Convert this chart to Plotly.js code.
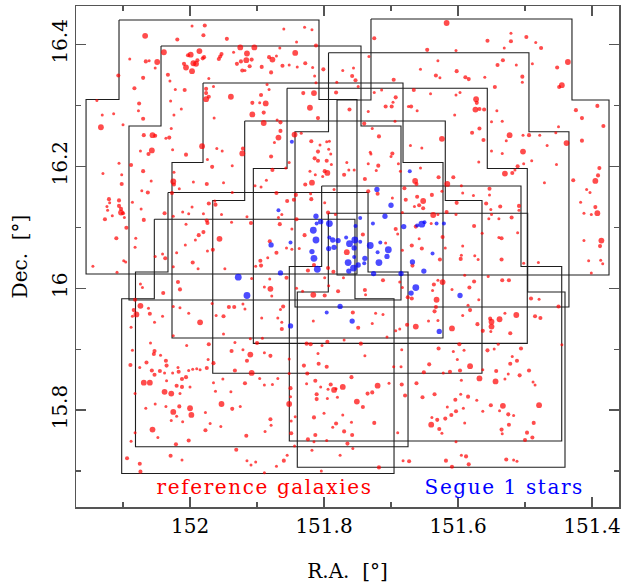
<!DOCTYPE html>
<html>
<head>
<meta charset="utf-8">
<script src="https://cdn.plot.ly/plotly-3.0.1.min.js"></script>
<style>
  html, body { margin: 0; padding: 0; background: #ffffff; }
  #chart { width: 624px; height: 585px; }
  #chart .annotation-text { letter-spacing: 1.6px; }
</style>
</head>
<body>
<div id="chart"></div>
<script>
// ---- Imaging footprints (degrees). Each one is a narrow upper block sitting on a wider lower block.
const fpTopEastRA  = [152.1060,152.0433,151.9806,152.0329,151.7933,151.8552,151.9184,151.8035,151.7936,152.0533,151.7299];
const fpTopWestRA  = [151.8075,151.7448,151.6821,151.7343,151.4941,151.5563,151.6190,151.5060,151.4960,151.7538,151.4299];
const fpTopDec     = [16.4399,16.3972,16.3366,16.1569,16.3863,16.3279,16.2742,16.1676,16.1228,16.1130,16.4415];
const fpStepDec    = [16.3095,16.2660,16.2061,16.0265,16.2567,16.1963,16.1438,16.0355,15.9937,15.9827,16.3087];
const fpLowWestRA  = [151.7508,151.6851,151.6224,151.6746,151.4344,151.4966,151.5642,151.4452,151.4403,151.6955,151.3746];
const fpBottomDec  = [16.0232,15.9806,15.9182,15.7399,15.9691,15.9095,15.8603,15.7493,15.7061,15.6960,16.0216];
const fpLowEastRA  = [152.1552,152.0911,152.0269,152.0814,151.8433,151.9055,151.9661,151.8518,151.8399,152.1020,151.7806];

// ---- Reference galaxies: position and brightness class (1 faint .. 3 bright)
const galRA = [
152.067,151.997,151.980,151.978,152.019,152.039,151.986,151.999,152.003,151.989,
151.981,151.995,151.991,152.009,152.006,151.997,152.049,152.066,152.061,152.052,
152.090,152.107,152.033,152.070,152.030,152.083,152.022,152.008,151.972,151.976,
151.976,151.972,152.029,152.076,152.077,152.013,152.024,152.131,152.114,152.070,
152.139,152.133,152.100,152.028,152.069,152.056,152.052,152.036,152.031,151.982,
152.057,152.062,152.074,152.026,152.006,152.088,152.106,152.130,152.102,152.070,
152.024,152.025,152.024,152.058,152.102,151.995,151.975,152.016,152.063,152.072,
152.027,152.121,
151.945,151.860,151.829,151.818,151.841,151.812,151.925,151.904,151.935,151.915,
151.953,151.955,151.957,151.979,151.866,151.843,151.882,151.877,151.871,151.908,
151.916,151.924,151.930,151.911,151.893,151.862,151.852,151.840,151.828,151.817,
151.922,151.918,151.879,151.801,151.814,151.812,151.885,151.882,151.965,151.976,
151.939,151.894,151.907,151.896,151.887,151.890,151.907,151.964,151.831,151.815,
151.821,151.809,151.870,151.865,151.890,151.865,151.868,151.874,151.921,151.960,
151.952,151.922,151.879,151.974,151.852,151.967,151.937,151.857,151.877,151.950,
151.886,151.903,151.894,151.937,151.871,151.844,151.834,151.842,151.819,151.819,
151.806,151.796,151.792,151.809,151.793,151.790,151.814,151.809,151.796,151.789,
151.821,151.813,151.799,151.795,151.802,151.818,151.828,151.785,151.820,151.770,
151.766,151.755,151.763,151.734,151.739,151.719,151.722,151.731,151.730,151.718,
151.698,151.700,151.689,151.686,151.728,151.740,151.694,151.762,151.734,151.708,
151.699,151.697,151.693,151.725,151.714,151.782,151.749,151.753,151.758,151.781,
151.756,151.772,151.696,151.733,151.725,151.680,151.698,151.734,151.720,151.674,
151.617,151.521,151.498,151.556,151.521,151.484,151.476,151.531,151.646,151.603,
151.630,151.533,151.541,151.513,151.489,151.436,151.452,151.656,151.602,151.633,
151.627,151.589,151.584,151.560,151.504,151.504,151.445,151.449,151.545,151.666,
151.641,151.603,151.597,151.573,151.572,151.574,151.568,151.561,151.670,151.661,
151.605,151.542,151.424,151.392,151.415,151.383,151.550,151.534,151.450,151.568,
151.579,151.523,151.503,151.494,151.478,151.454,151.624,151.562,151.528,151.467,
151.438,151.415,151.671,151.654,151.550,151.534,151.503,151.490,151.502,151.511,
151.569,151.453,151.389,151.656,151.530,151.519,151.515,151.391,151.395,151.428,
151.471,151.629,151.607,151.664,151.662,151.616,151.624,151.595,151.553,151.593,
151.577,151.553,151.639,151.661,151.408,151.403,
152.106,152.120,152.124,152.106,152.103,152.123,152.103,152.100,152.116,152.127,
152.098,152.095,152.110,152.086,152.069,152.073,152.081,152.082,152.099,152.096,
152.109,152.145,152.052,152.041,152.037,152.038,152.025,152.011,151.997,152.002,
151.980,151.975,152.006,151.980,151.987,151.992,152.007,152.020,151.996,151.988,
152.025,152.074,152.071,152.040,152.018,152.015,152.082,152.074,152.062,152.084,
152.080,152.086,152.088,152.060,152.041,152.053,152.025,152.015,152.002,151.985,
152.025,152.005,152.086,152.059,152.053,152.054,152.044,152.089,152.075,152.065,
152.057,152.045,152.038,152.036,152.035,152.026,152.018,152.012,152.017,152.006,
152.002,151.996,151.990,151.985,152.053,152.069,152.060,152.035,152.020,152.012,
152.000,
151.972,151.962,151.963,151.953,151.974,151.956,151.974,151.966,151.915,151.909,
151.938,151.868,151.863,151.866,151.855,151.845,151.799,151.794,151.783,151.841,
151.848,151.829,151.881,151.871,151.856,151.848,151.837,151.884,151.895,151.894,
151.902,151.948,151.815,151.794,151.824,151.786,151.799,151.771,151.766,151.742,
151.708,151.693,151.690,151.683,151.678,151.683,151.908,151.881,151.889,151.880,
151.878,151.856,151.841,151.832,151.816,151.799,151.779,151.793,151.739,151.738,
151.712,151.687,151.675,151.683,151.942,151.934,151.921,151.918,151.961,151.950,
151.967,151.893,151.865,151.861,151.869,151.863,151.863,151.816,151.757,151.723,
151.712,151.728,151.749,151.676,151.687,151.950,151.910,151.892,151.933,151.972,
151.900,151.921,151.938,151.910,151.889,151.880,151.826,151.820,151.803,151.795,
151.770,151.745,151.739,151.809,151.706,151.684,151.693,151.973,151.965,151.975,
151.915,151.908,151.933,151.951,151.918,151.896,151.889,151.965,151.869,151.852,
151.830,151.808,151.796,151.825,151.813,151.790,151.759,151.852,151.782,151.772,
151.720,151.703,151.684,151.696,151.685,
151.652,151.658,151.652,151.665,151.602,151.558,151.551,151.537,151.509,151.509,
151.617,151.637,151.630,151.550,151.554,151.539,151.520,151.603,151.576,151.663,
151.640,151.564,151.511,151.623,151.539,151.535,151.658,151.619,151.593,151.669,
151.654,151.627,151.595,151.596,151.575,151.570,151.535,151.502,151.480,151.668,
151.555,151.590,151.630,151.623,151.576,151.534,151.524,151.636,151.638,151.609,
151.583,151.669,151.632,151.569,151.491,151.479,151.450,151.633,151.635,151.582,
151.585,151.593,151.530,151.513,151.485,151.477,151.552,151.538,151.550,151.550,
151.644,151.630,151.663,151.609,151.571,151.563,151.551,151.522,151.445,151.598,
151.540,151.506,151.629,151.607,151.591,151.556,151.546,151.519,151.512,151.522,
151.601,151.582,151.643,151.597,151.563,151.543,151.525,151.508,151.494,151.651,
151.622,151.612,151.568,151.595,151.544,151.530,151.488,151.485,151.662,151.417,
151.395,151.412,151.401,151.392,151.386,151.388,151.412,151.405,151.387,151.384,
151.401,
152.038,152.028,152.015,152.052,152.036,152.016,152.000,152.066,152.025,152.020,
151.998,152.028,152.011,152.082,152.056,152.048,151.977,152.002,152.021,152.088,
152.094,152.075,152.029,152.012,152.074,152.082,
151.877,151.962,151.939,151.977,151.953,151.937,151.925,151.970,151.954,151.916,
151.888,151.880,151.879,151.849,151.843,151.852,151.850,151.850,151.849,151.826,
151.805,151.794,151.785,151.811,151.811,151.795,151.780,151.735,151.728,151.751,
151.742,151.800,151.815,151.772,151.725,151.759,151.782,151.787,151.770,151.758,
151.813,151.824,151.815,151.796,151.765,151.757,151.818,151.776,151.844,151.855,
151.860,151.871,151.889,151.915,151.909,151.902,151.931,151.804,151.718,151.690,
151.682,151.673,151.679,
151.618,151.609,151.595,151.588,151.584,151.528,151.517,151.512,151.653,151.635,
151.596,151.585,151.604,151.572,151.551,151.533,151.538,151.479,151.616,151.592,
151.563,151.603,151.610,151.639,151.631,151.619,151.640,151.590,151.525,151.517,
151.524,151.487,151.628,151.624,151.535,151.534,151.497,151.489,151.500,151.603
];
const galDec = [
16.414,16.430,16.415,16.431,16.408,16.387,16.389,16.383,16.382,16.374,
16.377,16.369,16.368,16.368,16.362,16.356,16.371,16.372,16.373,16.361,
16.376,16.349,16.350,16.345,16.340,16.328,16.326,16.325,16.344,16.327,
16.310,16.314,16.307,16.303,16.291,16.294,16.284,16.284,16.286,16.278,
16.308,16.264,16.268,16.262,16.251,16.251,16.250,16.246,16.247,16.233,
16.226,16.220,16.225,16.227,16.219,16.202,16.205,16.188,16.186,16.192,
16.190,16.175,16.170,16.176,16.171,16.174,16.171,16.163,16.157,16.160,
16.156,16.146,
16.409,16.425,16.428,16.424,16.404,16.398,16.395,16.395,16.387,16.385,
16.384,16.380,16.376,16.379,16.394,16.386,16.379,16.375,16.381,16.375,
16.374,16.372,16.368,16.364,16.363,16.365,16.366,16.363,16.369,16.362,
16.357,16.357,16.354,16.359,16.348,16.337,16.334,16.326,16.331,16.320,
16.314,16.317,16.304,16.304,16.303,16.288,16.285,16.279,16.320,16.320,
16.296,16.279,16.276,16.272,16.271,16.258,16.247,16.239,16.229,16.229,
16.225,16.221,16.216,16.211,16.206,16.199,16.201,16.197,16.194,16.173,
16.177,16.168,16.166,16.157,16.156,16.252,16.254,16.153,16.146,16.241,
16.235,16.240,16.241,16.224,16.228,16.220,16.213,16.209,16.209,16.203,
16.192,16.186,16.192,16.189,16.183,16.173,16.170,16.162,16.155,16.186,
16.206,16.194,16.194,16.204,16.179,16.201,16.193,16.223,16.220,16.249,
16.221,16.216,16.204,16.192,16.262,16.270,16.274,16.293,16.290,16.298,
16.298,16.305,16.313,16.321,16.325,16.321,16.331,16.341,16.348,16.338,
16.361,16.357,16.342,16.380,16.410,16.164,16.148,16.159,16.155,16.298,
16.435,16.418,16.412,16.406,16.405,16.403,16.394,16.394,16.391,16.390,
16.373,16.374,16.366,16.366,16.368,16.371,16.362,16.359,16.356,16.349,
16.345,16.346,16.343,16.346,16.347,16.338,16.333,16.330,16.330,16.325,
16.319,16.317,16.321,16.310,16.304,16.293,16.294,16.293,16.298,16.291,
16.284,16.291,16.292,16.299,16.279,16.266,16.273,16.274,16.265,16.262,
16.255,16.251,16.251,16.251,16.251,16.255,16.245,16.243,16.242,16.234,
16.238,16.242,16.234,16.230,16.225,16.221,16.224,16.209,16.204,16.200,
16.207,16.203,16.197,16.197,16.188,16.189,16.194,16.185,16.176,16.177,
16.173,16.182,16.182,16.176,16.171,16.171,16.159,16.168,16.163,16.156,
16.152,16.153,16.153,16.150,16.162,16.157,
16.144,16.140,16.134,16.135,16.130,16.128,16.124,16.123,16.119,16.113,
16.116,16.099,16.082,16.141,16.112,16.130,16.082,16.067,16.045,16.043,
16.026,16.036,16.052,16.056,16.049,16.123,16.118,16.125,16.133,16.122,
16.122,16.111,16.105,16.092,16.087,16.079,16.071,16.058,16.042,16.032,
16.035,16.007,16.001,15.992,16.010,15.998,15.981,15.971,15.967,15.964,
15.957,15.954,15.936,15.958,15.954,15.944,15.970,15.968,15.959,15.944,
15.922,15.906,15.898,15.910,15.897,15.892,15.890,15.874,15.870,15.878,
15.865,15.864,15.861,15.881,15.873,15.861,15.870,15.851,15.863,15.854,
15.865,15.867,15.868,15.866,15.858,15.845,15.845,15.848,15.840,15.838,
15.838,
16.139,16.137,16.143,16.121,16.107,16.081,16.061,16.063,16.117,16.107,
16.108,16.116,16.121,16.105,16.143,16.145,16.140,16.124,16.121,16.113,
16.097,16.087,16.077,16.058,16.066,16.064,16.065,16.050,16.045,16.037,
16.036,16.032,16.038,16.033,16.029,16.027,16.017,16.017,16.059,16.088,
16.074,16.097,16.089,16.062,16.145,16.124,16.016,16.015,16.002,15.999,
15.987,16.017,16.000,15.995,15.989,15.988,15.995,16.004,15.997,15.989,
16.013,16.010,15.985,16.001,15.969,15.969,15.974,15.966,15.955,15.954,
15.975,15.951,15.965,15.970,15.951,15.944,15.933,15.946,15.960,15.959,
15.957,15.942,15.935,15.940,15.933,15.925,15.917,15.918,15.911,15.908,
15.910,15.899,15.897,15.891,15.894,15.889,15.909,15.908,15.906,15.912,
15.915,15.909,15.889,15.893,15.920,15.899,15.930,15.883,15.877,15.869,
15.881,15.861,15.865,15.851,15.844,15.852,15.841,15.845,15.852,15.884,
15.873,15.876,15.871,15.860,15.848,15.842,15.854,15.860,15.835,15.838,
15.840,15.844,15.842,15.871,15.871,
16.143,16.136,16.131,16.134,16.140,16.139,16.129,16.134,16.135,16.128,
16.125,16.120,16.121,16.121,16.114,16.114,16.116,16.121,16.102,16.101,
16.106,16.090,16.091,16.084,16.083,16.082,16.081,16.066,16.069,16.070,
16.065,16.047,16.054,16.048,16.053,16.047,16.047,16.041,16.042,16.037,
16.019,16.021,16.013,16.010,16.011,16.013,16.013,16.006,15.996,15.998,
16.001,15.983,15.981,15.981,15.983,15.982,15.970,15.969,15.962,15.964,
15.972,15.955,15.959,15.956,15.954,15.951,15.950,15.949,15.945,15.937,
15.946,15.947,15.937,15.934,15.941,15.930,15.929,15.926,15.907,15.908,
15.908,15.901,15.901,15.896,15.898,15.898,15.900,15.888,15.881,15.876,
15.883,15.872,15.875,15.865,15.866,15.864,15.859,15.857,15.865,15.862,
15.861,15.863,15.852,15.849,15.847,15.851,15.846,15.841,15.844,16.141,
16.133,16.123,16.121,16.123,16.078,16.069,16.078,16.045,16.046,16.040,
16.025,
15.830,15.827,15.827,15.810,15.806,15.806,15.803,15.803,15.797,15.790,
15.792,15.783,15.781,15.763,15.768,15.755,15.767,15.750,15.744,15.749,
15.721,15.712,15.725,15.718,15.699,15.827,
15.842,15.831,15.830,15.796,15.810,15.802,15.806,15.778,15.773,15.758,
15.765,15.785,15.775,15.782,15.789,15.810,15.822,15.836,15.762,15.843,
15.838,15.834,15.833,15.826,15.818,15.819,15.821,15.827,15.829,15.814,
15.805,15.795,15.788,15.792,15.779,15.780,15.778,15.772,15.765,15.759,
15.759,15.752,15.748,15.750,15.745,15.737,15.734,15.726,15.741,15.726,
15.717,15.708,15.697,15.717,15.710,15.715,15.735,15.700,15.706,15.763,
15.717,15.716,15.824,
15.717,15.707,15.726,15.724,15.711,15.719,15.718,15.716,15.821,15.826,
15.826,15.822,15.817,15.816,15.808,15.807,15.799,15.808,15.805,15.803,
15.798,15.798,15.792,15.788,15.784,15.786,15.776,15.779,15.793,15.791,
15.776,15.779,15.769,15.762,15.768,15.761,15.763,15.755,15.751,15.748
];
const galMag = [
3,1,2,2,2,3,3,3,2,2, 2,3,3,2,3,3,3,2,1,1, 1,2,2,2,1,2,1,2,1,2, 3,2,1,2,1,1,1,1,1,2,
1,3,1,1,2,3,2,1,2,3, 3,2,1,1,2,2,1,1,1,2, 1,3,2,1,2,1,2,1,2,1, 2,2,
2,1,1,1,1,2,3,3,1,3, 2,2,2,2,1,3,2,3,1,2, 3,2,2,2,2,2,1,1,2,1, 2,1,2,2,1,1,1,1,1,2,
3,2,2,1,3,2,3,1,2,3, 3,2,1,2,3,2,3,1,2,1, 1,3,2,1,1,2,1,1,2,1, 1,1,1,1,2,3,1,2,2,2,
1,1,1,2,1,1,2,2,2,1, 1,1,2,3,1,3,2,1,1,2, 1,1,1,1,2,2,1,1,1,2, 2,1,1,1,1,2,1,2,1,2,
2,1,2,1,1,2,1,2,2,1, 1,1,2,1,2,2,1,2,2,1,
3,1,2,2,2,1,2,1,2,1, 1,2,2,1,1,3,2,1,2,2, 1,2,2,1,2,1,3,2,2,2, 1,1,1,3,2,3,2,2,2,1,
1,1,2,2,2,2,1,1,1,2, 2,3,1,2,1,1,3,2,1,1, 3,2,1,1,1,1,3,1,1,2, 1,1,2,1,3,2,1,2,3,2,
1,2,2,3,2,3,1,1,2,1, 1,1,2,2,1,1,
2,1,1,2,2,1,3,2,1,2, 1,2,2,1,2,1,1,1,1,1, 1,1,1,1,2,2,1,1,1,1, 1,2,1,2,2,1,1,1,2,1,
1,1,1,2,2,2,2,3,1,2, 3,1,1,2,1,1,1,1,1,3, 1,1,1,1,2,2,1,2,1,2, 2,2,1,2,2,1,1,2,2,2,
1,1,1,1,2,3,3,1,2,2, 1,
2,2,1,1,2,3,1,2,1,2, 1,1,1,2,2,2,1,2,1,2, 1,2,2,2,1,1,1,1,2,2, 1,1,2,2,2,2,1,1,3,2,
1,2,1,1,2,1,1,1,1,3, 1,2,1,1,3,2,2,1,2,1, 2,1,2,1,2,2,1,1,1,2, 1,1,1,2,1,1,2,1,2,1,
1,1,2,2,1,1,1,1,1,2, 2,1,2,3,1,2,2,2,1,2, 1,2,1,1,1,1,1,1,2,2, 2,3,2,1,2,1,1,1,1,1,
2,2,2,2,2,2,2,1,1,3, 3,1,2,1,1,
3,2,2,1,2,2,1,2,2,1, 2,3,1,1,1,1,2,1,2,2, 1,1,1,2,1,2,1,1,1,2, 2,2,1,2,1,1,2,1,1,2,
1,1,1,3,2,2,2,2,1,1, 2,2,3,1,2,1,2,2,2,2, 1,1,1,3,2,2,2,3,3,3, 1,1,3,3,2,2,1,2,1,2,
1,2,2,1,1,2,1,1,2,2, 1,3,2,2,1,2,1,2,2,2, 1,2,3,1,3,1,1,1,2,1, 2,1,1,3,3,2,1,1,1,1,
1,
3,3,1,1,1,2,3,1,3,1, 3,1,1,1,3,1,2,2,2,1, 2,2,2,1,2,1,
1,1,1,1,3,2,1,1,1,2, 1,2,1,1,1,3,1,2,2,1, 1,1,3,2,2,1,1,2,2,3, 2,1,2,1,2,1,2,1,2,2,
2,2,1,1,2,1,1,1,1,1, 2,1,1,1,1,1,2,1,2,1, 1,2,2,
2,2,1,2,2,2,1,1,2,2, 1,2,2,1,2,3,1,3,1,1, 1,2,2,1,2,2,3,1,2,1, 2,2,2,1,2,1,2,2,2,1
];

// ---- Segue 1 member stars
const starRA = [
151.868,151.848,151.672,151.721,151.700,151.709,151.727,151.681,151.654,151.661,
151.650,151.632,151.621,151.746,151.753,151.792,151.812,151.811,151.805,151.816,
151.812,151.818,151.815,151.810,151.792,151.787,151.779,151.785,151.793,151.767,
151.762,151.754,151.755,151.746,151.764,151.756,151.763,151.749,151.739,151.740,
151.755,151.731,151.718,151.720,151.704,151.706,151.716,151.668,151.651,151.685,
151.726,151.663,151.670,151.879,151.850,151.865,151.928,151.915,151.776,151.796,
151.758,151.850,151.638,151.597,151.628
];
const starDec = [
16.128,16.240,16.192,16.162,16.136,16.118,16.106,16.101,16.105,16.103,
16.108,16.106,16.106,16.115,16.102,16.106,16.118,16.106,16.109,16.095,
16.079,16.060,16.049,16.031,16.083,16.079,16.078,16.067,16.065,16.083,
16.073,16.079,16.066,16.076,16.042,16.033,16.028,16.038,16.049,16.041,
16.051,16.070,16.042,16.059,16.063,16.052,16.075,16.043,16.028,16.024,
16.024,16.001,15.992,16.071,16.075,16.025,16.018,15.988,15.970,15.960,
15.946,15.938,16.057,15.988,15.929
];
const starMag = [
1,1,1,2,2,2,1,2,3,1, 1,1,1,1,1,3,2,1,2,3, 3,2,3,3,1,2,2,2,2,1,
3,3,2,1,3,3,2,2,2,1, 1,3,3,1,3,2,1,2,2,2, 2,3,2,2,1,2,3,3,2,1, 2,2,1,2,2
];

const xTickVals = [152, 151.8, 151.6, 151.4];
const xTickText = ['152', '151.8', '151.6', '151.4'];
const yTickVals = [15.8, 16, 16.2, 16.4];
const yTickText = ['15.8', '16', '16.2', '16.4'];

// ---- outline path for every footprint, separated by gaps
const outX = [], outY = [];
for (let i = 0; i < fpTopDec.length; i++) {
  outX.push(fpTopEastRA[i], fpTopWestRA[i], fpTopWestRA[i], fpLowWestRA[i], fpLowWestRA[i],
            fpLowEastRA[i], fpLowEastRA[i], fpTopEastRA[i], fpTopEastRA[i], null);
  outY.push(fpTopDec[i], fpTopDec[i], fpStepDec[i], fpStepDec[i], fpBottomDec[i],
            fpBottomDec[i], fpStepDec[i], fpStepDec[i], fpTopDec[i], null);
}

const galSizeByMag = [0, 3.0, 4.1, 5.8];
const starSizeByMag = [0, 4.0, 5.3, 6.8];

const traces = [
  { type: 'scatter', mode: 'lines', x: outX, y: outY, connectgaps: false,
    line: { color: '#1e1e1e', width: 1.1 }, hoverinfo: 'skip' },
  { type: 'scatter', mode: 'markers', x: galRA, y: galDec,
    marker: { color: '#ff0000', size: galMag.map(m => galSizeByMag[m]), line: { width: 0 } } },
  { type: 'scatter', mode: 'markers', x: starRA, y: starDec,
    marker: { color: '#0000ff', size: starMag.map(m => starSizeByMag[m]), line: { width: 0 } } }
];

const serif = 'DejaVu Serif, Liberation Serif, serif';
const tickFont = { family: serif, size: 20, color: '#000' };
const frame = '#555555';

const layout = {
  width: 624, height: 585,
  margin: { l: 76, r: 5, t: 6, b: 78 },
  paper_bgcolor: '#ffffff', plot_bgcolor: '#ffffff',
  showlegend: false,
  xaxis: {
    range: [152.1702, 151.3597],
    tickmode: 'array', tickvals: xTickVals, ticktext: xTickText,
    ticks: 'inside', ticklen: 10, tickwidth: 1.2, tickcolor: frame,
    minor: { tickmode: 'array', tickvals: [152.1, 151.9, 151.7, 151.5], ticks: 'inside', ticklen: 5, tickwidth: 1.2, tickcolor: frame, showgrid: false },
    showline: true, linecolor: frame, linewidth: 1.5, mirror: 'allticks',
    showgrid: false, zeroline: false,
    tickfont: tickFont,
    title: { text: 'R.A.  [°]', font: tickFont, standoff: 27 }
  },
  yaxis: {
    range: [15.641, 16.4629],
    tickmode: 'array', tickvals: yTickVals, ticktext: yTickText, tickangle: -90,
    ticks: 'inside', ticklen: 10, tickwidth: 1.2, tickcolor: frame,
    minor: { tickmode: 'array', tickvals: [15.7, 15.9, 16.1, 16.3], ticks: 'inside', ticklen: 5, tickwidth: 1.2, tickcolor: frame, showgrid: false },
    showline: true, linecolor: frame, linewidth: 1.5, mirror: 'allticks',
    showgrid: false, zeroline: false,
    tickfont: tickFont,
    title: { text: 'Dec.  [°]', font: tickFont, standoff: 14 }
  },
  annotations: [
    { xref: 'paper', yref: 'paper', x: 0.347, y: 0.040, text: 'reference galaxies', showarrow: false,
      font: { family: serif, size: 20, color: '#ff0000' }, xanchor: 'center', yanchor: 'middle' },
    { xref: 'paper', yref: 'paper', x: 0.790, y: 0.040, text: 'Segue 1 stars', showarrow: false,
      font: { family: serif, size: 20, color: '#0000ff' }, xanchor: 'center', yanchor: 'middle' }
  ]
};

Plotly.newPlot('chart', traces, layout, { staticPlot: true, displayModeBar: false });
</script>
</body>
</html>
